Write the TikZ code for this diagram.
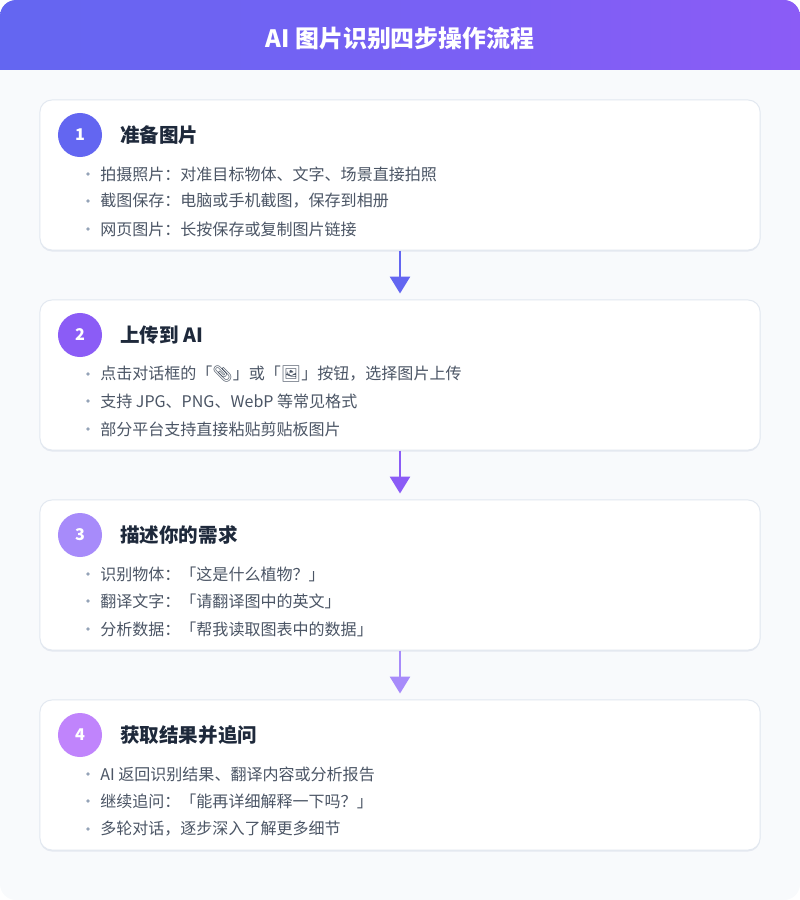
\documentclass[tikz,border=0pt]{standalone}
\usepackage{fontspec}
\setmainfont{Noto Sans CJK SC}
\newfontfamily\emojifont{Noto Emoji}
\usepackage{tikz}
\usetikzlibrary{arrows.meta, positioning}
\usepackage{xcolor}
\definecolor{myindigo}{HTML}{6366F1}
\definecolor{myviolet}{HTML}{8B5CF6}
\definecolor{mylilac}{HTML}{A78BFA}
\definecolor{mypurple}{HTML}{C084FC}
\definecolor{mybg}{HTML}{F8FAFC}
\definecolor{mycardline}{HTML}{E2E8F0}
\definecolor{myshadow}{HTML}{E5E9F0}
\definecolor{myheading}{HTML}{1E293B}
\definecolor{mytext}{HTML}{4B5565}
\definecolor{mydot}{HTML}{94A3B8}

\begin{document}
\begin{tikzpicture}[x=0.025cm, y=-0.025cm,
    card/.style={draw=mycardline, line width=0.7pt, fill=white, rounded corners=0.3cm, minimum width=18cm, minimum height=3.75cm},
    stepnum/.style={circle, minimum size=1.1cm, inner sep=0pt, text=white, font=\fontsize{11.5}{14}\selectfont\bfseries},
    steptitle/.style={anchor=west, inner sep=0pt, text=myheading, font=\fontsize{13.9}{16}\selectfont\bfseries},
    bulletitem/.style={anchor=west, inner sep=0pt, text=mytext, font=\fontsize{11.4}{14}\selectfont},
    flowarrow/.style={line width=1.5pt, -{Triangle[width=0.5cm, length=0.42cm]}, shorten >=0.15cm}
]
    \useasboundingbox (0,0) rectangle (800,900);

    % --- Background and title bar ---
    \fill[mybg, rounded corners=0.4cm] (0,0) rectangle (800,900);
    \begin{scope}
        \clip[rounded corners=0.4cm] (0,0) rectangle (800,900);
        \shade[left color=myindigo, right color=myviolet] (0,0) rectangle (800,70);
    \end{scope}
    \node[text=white, font=\fontsize{17}{20}\selectfont\bfseries] (title) at (400,38) {AI 图片识别四步操作流程};

    % --- Step 1 ---
    \fill[myshadow, rounded corners=0.3cm] (40,102) rectangle (760,251.5);
    \node[card] (card1) at (400,175) {};
    \node[stepnum, fill=myindigo] (num1) at (80,135) {1};
    \node[steptitle] (head1) at (120,135) {准备图片};
    \fill[mydot] (88,174) circle (1.3pt);
    \node[bulletitem] (item11) at (100,174) {拍摄照片：对准目标物体、文字、场景直接拍照};
    \fill[mydot] (88,201) circle (1.3pt);
    \node[bulletitem] (item12) at (100,201) {截图保存：电脑或手机截图，保存到相册};
    \fill[mydot] (88,229) circle (1.3pt);
    \node[bulletitem] (item13) at (100,229) {网页图片：长按保存或复制图片链接};

    % --- Step 2 ---
    \fill[myshadow, rounded corners=0.3cm] (40,302) rectangle (760,451.5);
    \node[card] (card2) at (400,375) {};
    \node[stepnum, fill=myviolet] (num2) at (80,335) {2};
    \node[steptitle] (head2) at (120,335) {上传到 AI};
    \fill[mydot] (88,374) circle (1.3pt);
    \node[bulletitem] (item21) at (100,374) {点击对话框的「{\emojifont 📎}」或「{\emojifont 🖼}」按钮，选择图片上传};
    \fill[mydot] (88,401) circle (1.3pt);
    \node[bulletitem] (item22) at (100,401) {支持 JPG、PNG、WebP 等常见格式};
    \fill[mydot] (88,429) circle (1.3pt);
    \node[bulletitem] (item23) at (100,429) {部分平台支持直接粘贴剪贴板图片};

    % --- Step 3 ---
    \fill[myshadow, rounded corners=0.3cm] (40,502) rectangle (760,651.5);
    \node[card] (card3) at (400,575) {};
    \node[stepnum, fill=mylilac] (num3) at (80,535) {3};
    \node[steptitle] (head3) at (120,535) {描述你的需求};
    \fill[mydot] (88,574) circle (1.3pt);
    \node[bulletitem] (item31) at (100,574) {识别物体：「这是什么植物？」};
    \fill[mydot] (88,601) circle (1.3pt);
    \node[bulletitem] (item32) at (100,601) {翻译文字：「请翻译图中的英文」};
    \fill[mydot] (88,629) circle (1.3pt);
    \node[bulletitem] (item33) at (100,629) {分析数据：「帮我读取图表中的数据」};

    % --- Step 4 ---
    \fill[myshadow, rounded corners=0.3cm] (40,702) rectangle (760,851.5);
    \node[card] (card4) at (400,775) {};
    \node[stepnum, fill=mypurple] (num4) at (80,735) {4};
    \node[steptitle] (head4) at (120,735) {获取结果并追问};
    \fill[mydot] (88,774) circle (1.3pt);
    \node[bulletitem] (item41) at (100,774) {AI 返回识别结果、翻译内容或分析报告};
    \fill[mydot] (88,801) circle (1.3pt);
    \node[bulletitem] (item42) at (100,801) {继续追问：「能再详细解释一下吗？」};
    \fill[mydot] (88,829) circle (1.3pt);
    \node[bulletitem] (item43) at (100,829) {多轮对话，逐步深入了解更多细节};

    % --- Arrows between steps ---
    \draw[flowarrow, myindigo] (card1.south) -- (card2.north);
    \draw[flowarrow, myviolet] (card2.south) -- (card3.north);
    \draw[flowarrow, mylilac] (card3.south) -- (card4.north);
\end{tikzpicture}
\end{document}
